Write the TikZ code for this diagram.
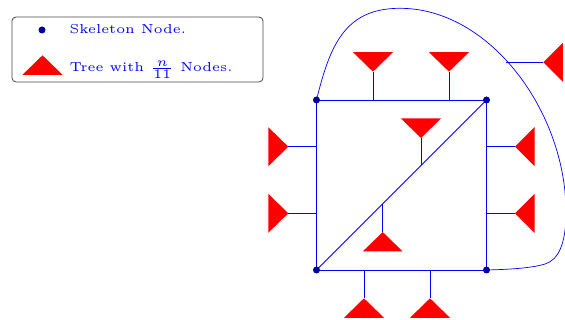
\documentclass[tikz,border=0pt]{standalone}
\begin{document}
\begin{tikzpicture}[x=1pt,y=-1pt,
  edge/.style={draw=blue,line width=0.8pt},
  skel/.style={circle,fill={rgb,255:red,0;green,0;blue,150},inner sep=0pt,minimum size=7pt},
  lbl/.style={text=blue,anchor=base west,inner sep=0pt,scale=2.6,font=\tiny},
  legendbox/.style={draw={rgb,255:red,70;green,70;blue,70},line width=0.8pt,rounded corners=4pt},
  pics/treedown/.style={code={\fill[red] (0,0) -- (-20,-19.5) -- (20,-19.5) -- cycle;}},
  pics/treeup/.style={code={\fill[red] (0,0) -- (-20,19.5) -- (20,19.5) -- cycle;}},
  pics/treeright/.style={code={\fill[red] (0,0) -- (-20,-19.5) -- (-20,19.5) -- cycle;}},
  pics/treeleft/.style={code={\fill[red] (0,0) -- (19.5,-19.5) -- (19.5,19.5) -- cycle;}}
]
\useasboundingbox (0,0) rectangle (565,320);
% legend
\draw[legendbox] (12,17) rectangle (263,82);
\node[skel] (ldot) at (42,30) {};
\pic at (42.5,55.3) {treeup};
\node[lbl] (l1) at (69,33.3) {Skeleton Node.};
\node[lbl] (l2) at (69,71.7) {Tree with $\frac{n}{11}$ Nodes.};
% skeleton
\coordinate (TL) at (316.5,100);
\coordinate (TR) at (486.5,100);
\coordinate (BL) at (316.5,270);
\coordinate (BR) at (486.5,270);
% tree apices and attachments
\coordinate (t1) at (373,71.7);   \coordinate (a1) at (373,100);
\coordinate (t2) at (449,71.7);   \coordinate (a2) at (449,100);
\coordinate (t3) at (421,138);    \coordinate (a3) at (421,165.5);
\coordinate (t4) at (382.7,232);  \coordinate (a4) at (382.7,203.8);
\coordinate (t5) at (364,298.3);  \coordinate (a5) at (364,270);
\coordinate (t6) at (430,298.3);  \coordinate (a6) at (430,270);
\coordinate (t7) at (288.3,146.7);\coordinate (a7) at (316.5,146.7);
\coordinate (t8) at (288.3,213.3);\coordinate (a8) at (316.5,213.3);
\coordinate (t9) at (515,146.7);  \coordinate (a9) at (486.5,146.7);
\coordinate (t10) at (515,213.3); \coordinate (a10) at (486.5,213.3);
\coordinate (t11) at (543.3,62.3);\coordinate (a11) at (506,62.3);
% outer curve
\coordinate (ctop) at (400,8.3);
\coordinate (cright) at (566,212);
\coordinate (cbot) at (545,264);
\draw[blue,line width=0.7pt] (TL) .. controls (330,45) and (345,8.3) .. (ctop)
  .. controls (490,8.3) and (566,112) .. (cright)
  .. controls (566,245) and (558,260) .. (cbot)
  .. controls (530,268.6) and (505,269.5) .. (BR);
% square and diagonal
\draw[edge] (TL) -- (TR) -- (BR) -- (BL) -- cycle;
\draw[edge] (BL) -- (TR);
% stems
\foreach \i in {1,...,11} {\draw[edge] (a\i) -- (t\i);}
% trees
\pic at (t1) {treedown};
\pic at (t2) {treedown};
\pic at (t3) {treedown};
\pic at (t4) {treeup};
\pic at (t5) {treeup};
\pic at (t6) {treeup};
\pic at (t7) {treeright};
\pic at (t8) {treeright};
\pic at (t9) {treeleft};
\pic at (t10) {treeleft};
\pic at (t11) {treeleft};
% skeleton nodes
\node[skel] (nTL) at (TL) {};
\node[skel] (nTR) at (TR) {};
\node[skel] (nBL) at (BL) {};
\node[skel] (nBR) at (BR) {};
\end{tikzpicture}
\end{document}
